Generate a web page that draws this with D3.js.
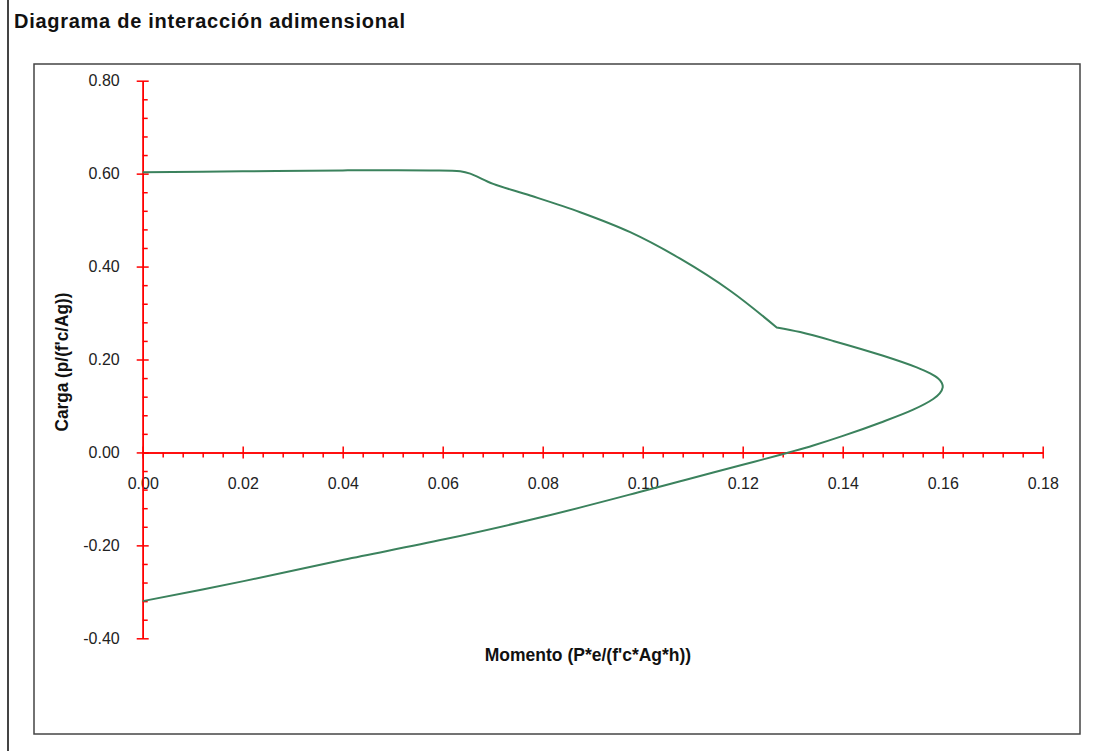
<!DOCTYPE html>
<html>
<head>
<meta charset="utf-8">
<script src="https://cdn.jsdelivr.net/npm/d3@7"></script>
<style>
  body { margin: 0; background: #fff; }
  text { font-family: "Liberation Sans", Arial, sans-serif; }
</style>
</head>
<body>
<div id="chart"></div>
<script>
// Momento adimensional (eje x) y carga adimensional (eje y)
// (el punto de quiebre 0.1268 / 0.269 se repite para conservar la esquina)
const momento = [0.000, 0.020, 0.040, 0.0575, 0.0635, 0.0655, 0.0701, 0.0775, 0.0875, 0.0975,
  0.1075, 0.1175, 0.1268, 0.1268, 0.1315, 0.1381, 0.1481, 0.1548, 0.1575, 0.1591,
  0.1598, 0.1600, 0.1594, 0.1581, 0.1541, 0.1475, 0.1399, 0.1341, 0.1292, 0.1241,
  0.1198, 0.1141, 0.1075, 0.1005, 0.0803, 0.0603, 0.0402, 0.0202, 0.000]
const carga = [0.603, 0.605, 0.607, 0.607, 0.605, 0.600, 0.578, 0.553, 0.517, 0.474,
  0.417, 0.348, 0.269, 0.269, 0.259, 0.240, 0.208, 0.183, 0.170, 0.159,
  0.150, 0.140, 0.127, 0.115, 0.092, 0.064, 0.035, 0.015, 0.000, -0.015,
  -0.027, -0.043, -0.062, -0.082, -0.138, -0.187, -0.231, -0.277, -0.320]

const xTicks = [0, 0.02, 0.04, 0.06, 0.08, 0.10, 0.12, 0.14, 0.16, 0.18]
const yTicks = [-0.40, -0.20, 0.00, 0.20, 0.40, 0.60, 0.80]

const width = 1105
const height = 751

const svg = d3.select('#chart')
  .append('svg')
  .attr('width', width)
  .attr('height', height)

// marco exterior y del grafico
svg.append('line')
  .attr('x1', 8).attr('x2', 8).attr('y1', 0).attr('y2', height)
  .style('stroke', '#444').style('stroke-width', 2)
svg.append('rect')
  .attr('x', 34).attr('y', 64).attr('width', 1046).attr('height', 670)
  .style('fill', 'none').style('stroke', '#444').style('stroke-width', 1.5)

svg.append('text')
  .attr('x', 14).attr('y', 28)
  .attr('textLength', 391).attr('lengthAdjust', 'spacing')
  .style('font-size', '20px').style('font-weight', 'bold').style('fill', '#111')
  .text('Diagrama de interacción adimensional')

const x = d3.scaleLinear().domain([0, 0.18]).range([142.7, 1042.7])
const y = d3.scaleLinear().domain([-0.4, 0.8]).range([638.3, 80.7])

const minorX = d3.range(0, 0.18 + 1e-9, 0.004).filter((d, i) => i % 5 !== 0)
const minorY = d3.range(-0.4, 0.8 + 1e-9, 0.04).filter((d, i) => i % 5 !== 0)

const red = '#ff0000'
const fmt = d => d3.format('.2f')(d).replace('−', '-')

// ejes menores
const gxm = svg.append('g')
  .attr('transform', `translate(0, ${y(0)})`)
  .call(d3.axisBottom(x).tickValues(minorX).tickSize(5).tickSizeOuter(0).tickFormat(''))
const gym = svg.append('g')
  .attr('transform', `translate(${x(0)}, 0)`)
  .call(d3.axisRight(y).tickValues(minorY).tickSize(5).tickSizeOuter(0).tickFormat(''))

// ejes mayores
const gx = svg.append('g')
  .attr('transform', `translate(0, ${y(0)})`)
  .call(d3.axisBottom(x).tickValues(xTicks).tickSize(6).tickSizeOuter(0).tickFormat(fmt))
gx.selectAll('.tick line').attr('y1', -6)
gx.selectAll('.tick text').attr('y', 25)

const gy = svg.append('g')
  .attr('transform', `translate(${x(0)}, 0)`)
  .call(d3.axisLeft(y).tickValues(yTicks).tickSize(6).tickSizeOuter(0).tickFormat(fmt))
gy.selectAll('.tick line').attr('x1', 6)
gy.selectAll('.tick text').attr('x', -23)

;[gxm, gym, gx, gy].forEach(g => {
  g.selectAll('path, line').style('stroke', red).style('stroke-width', 1.5)
  g.selectAll('text').style('font-size', '16px').style('fill', '#222')
    .style('font-family', '"Liberation Sans", Arial, sans-serif')
})

// curva de interaccion
const line = d3.line()
  .x((d, i) => x(momento[i]))
  .y((d, i) => y(carga[i]))
  .curve(d3.curveCatmullRom.alpha(0.5))

svg.append('path')
  .attr('d', line(momento))
  .style('fill', 'none')
  .style('stroke', '#3b825d')
  .style('stroke-width', 2)

// titulos de ejes
svg.append('text')
  .attr('x', 588).attr('y', 661)
  .attr('text-anchor', 'middle')
  .style('font-size', '17.5px').style('font-weight', 'bold').style('fill', '#111')
  .text("Momento (P*e/(f'c*Ag*h))")

svg.append('text')
  .attr('transform', 'translate(68, 362) rotate(-90)')
  .attr('text-anchor', 'middle')
  .attr('textLength', 139).attr('lengthAdjust', 'spacingAndGlyphs')
  .style('font-size', '18px').style('font-weight', 'bold').style('fill', '#111')
  .text("Carga (p/(f'c/Ag))")
</script>
</body>
</html>
